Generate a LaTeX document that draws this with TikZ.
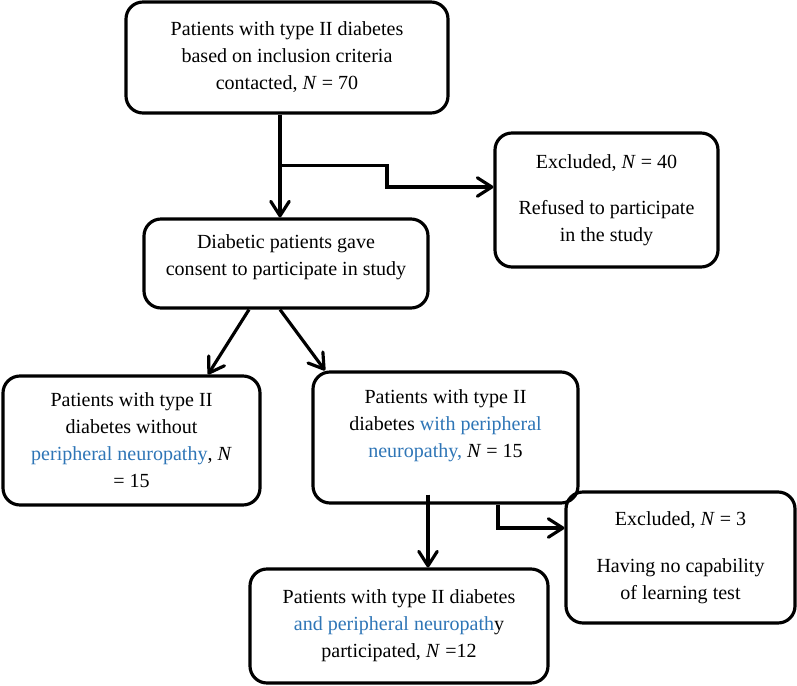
\documentclass[tikz,border=0pt]{standalone}
\usepackage{fontspec}
\setmainfont{Liberation Serif}
\usepackage{tikz}
\usetikzlibrary{arrows.meta, calc}
\definecolor{NeuroBlue}{HTML}{2E75B6}

\begin{document}
\begin{tikzpicture}[
    box/.style={draw, rounded corners=0.34cm, line width=1.8pt, align=center, inner sep=0pt, font=\fontsize{11.4}{15.4}\selectfont},
    arrow/.style={-{Straight Barb[length=2.9mm, width=3.7mm, round]}, line width=1.8pt}
]
    \useasboundingbox (0,0) rectangle (15.94,-13.72);
    \node[box, minimum width=6.44cm, minimum height=2.22cm] (contacted) at (5.74,-1.15) {Patients with type II diabetes\\based on inclusion criteria\\contacted, \textit{N} = 70};
    \node[box, minimum width=4.46cm, minimum height=2.68cm] (excl1) at (12.13,-4.0) {Excluded, \textit{N} = 40\\[0.38cm]Refused to participate\\in the study};
    \node[box, minimum width=5.68cm, minimum height=1.78cm] (consent) at (5.72,-5.27) {Diabetic patients gave\\consent to participate in study\\[-0.2cm]\mbox{}};
    \node[box, minimum width=5.14cm, minimum height=2.58cm] (noneuro) at (2.63,-8.81) {Patients with type II\\diabetes without\\\textcolor{NeuroBlue}{peripheral neuropathy}, \textit{N}\\= 15};
    \node[box, minimum width=5.30cm, minimum height=2.62cm] (neuro) at (8.91,-8.75) {Patients with type II\\diabetes \textcolor{NeuroBlue}{with peripheral}\\\textcolor{NeuroBlue}{neuropathy,} \textit{N} = 15\\\mbox{}};
    \node[box, minimum width=4.58cm, minimum height=2.62cm] (excl2) at (13.61,-11.15) {Excluded, \textit{N} = 3\\[0.4cm]Having no capability\\of learning test};
    \node[box, minimum width=5.96cm, minimum height=2.28cm] (final) at (7.98,-12.52) {Patients with type II diabetes\\\textcolor{NeuroBlue}{and peripheral neuropath}y\\participated, \textit{N} =12};

    \coordinate (split1) at ([xshift=-0.14cm, yshift=-1.02cm]contacted.south);
    \draw[arrow] ([xshift=-0.14cm]contacted.south) -- ([xshift=-0.14cm]contacted.south |- consent.north);
    \draw[arrow] (split1) -- ++(2.14,0) |- ([yshift=0.26cm]excl1.west);
    \draw[arrow] ([xshift=-0.74cm]consent.south) -- ([xshift=1.53cm]noneuro.north);
    \draw[arrow] ([xshift=-0.12cm]consent.south) -- ([xshift=-2.41cm]neuro.north);
    \draw[arrow] ([xshift=-0.35cm, yshift=0.2cm]neuro.south) -- ([xshift=-0.35cm]neuro.south |- final.north);
    \draw[arrow] ([xshift=1.05cm]neuro.south) |- ([yshift=0.59cm]excl2.west);
\end{tikzpicture}
\end{document}
